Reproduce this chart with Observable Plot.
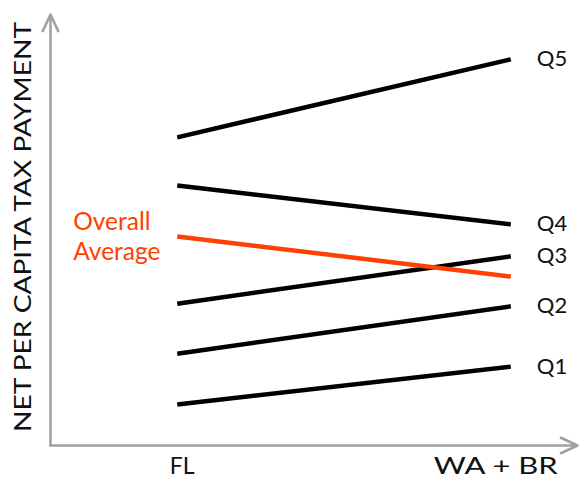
<!DOCTYPE html>
<html>
<head>
<meta charset="utf-8">
<script src="https://cdn.jsdelivr.net/npm/d3@7"></script>
<script src="https://cdn.jsdelivr.net/npm/@observablehq/plot@0.6"></script>
<style>
  html, body { margin: 0; padding: 0; background: #fff; }
  svg { display: block; }
</style>
</head>
<body>
<div id="chart"></div>
<script>
// Data (arbitrary units: net per capita tax payment index)
const periods = ["FL", "WA + BR"];
const periodPos = [0, 1];
const seriesNames = ["Q5", "Q4", "Q3", "Q2", "Q1", "Overall Average"];
const valuesFL   = [71.5, 60.3, 32.9, 21.3, 9.5, 48.5];
const valuesWABR = [89.6, 51.3, 43.9, 32.3, 18.3, 39.2];
const seriesColors = ["#000", "#000", "#000", "#000", "#000", "#ff4000"];
const yTitle = "NET PER CAPITA TAX PAYMENT";

const rows = [];
seriesNames.forEach((s, i) => {
  rows.push({series: s, x: periodPos[0], y: valuesFL[i], color: seriesColors[i]});
  rows.push({series: s, x: periodPos[1], y: valuesWABR[i], color: seriesColors[i]});
});
const quintiles = seriesNames.slice(0, 5).map((s, i) => ({series: s, x: periodPos[1], y: valuesWABR[i]}));
const avgLabel = [{x: periodPos[0], y: valuesFL[5], text: "Overall\nAverage"}];

const xMin = -0.38, xMax = 1.2, yMin = 0, yMax = 100;

const chart = Plot.plot({
  width: 579,
  height: 479,
  marginTop: 14,
  marginBottom: 34,
  marginLeft: 50,
  marginRight: 2,
  style: {fontFamily: "Lato, 'Open Sans', sans-serif", background: "#fff"},
  x: {domain: [xMin, xMax], axis: null},
  y: {domain: [yMin, yMax], axis: null},
  marks: [
    // axes with arrowheads
    Plot.arrow([{x1: xMin, y1: yMin, x2: xMin, y2: yMax}], {
      x1: "x1", y1: "y1", x2: "x2", y2: "y2",
      stroke: "#a0a0a0", strokeWidth: 2.5, headLength: 11, headAngle: 50
    }),
    Plot.arrow([{x1: xMin, y1: yMin, x2: xMax, y2: yMin}], {
      x1: "x1", y1: "y1", x2: "x2", y2: "y2",
      stroke: "#a0a0a0", strokeWidth: 2.5, headLength: 11, headAngle: 50
    }),
    Plot.text([periods[0]], {
      x: () => periodPos[0], y: () => yMin, text: d => d, dx: 5, dy: 21,
      fontSize: 23, fill: "#111", className: "xtick"
    }),
    Plot.text([periods[1]], {
      x: () => periodPos[1], y: () => yMin, text: d => d, dx: -15, dy: 21,
      fontSize: 23, fill: "#111", className: "xtick wide"
    }),
    Plot.text([yTitle], {
      frameAnchor: "left", text: d => d, rotate: -90, dx: -27, dy: -3,
      textAnchor: "middle", fontSize: 23, fill: "#111", className: "ytitle"
    }),
    Plot.line(rows, {
      x: "x", y: "y", z: "series", stroke: "color",
      strokeWidth: 4.5, strokeLinecap: "butt"
    }),
    Plot.text(quintiles, {
      x: "x", y: "y", text: "series", textAnchor: "start", dx: 26,
      fontSize: 22, fill: "#111"
    }),
    Plot.text(avgLabel, {
      x: "x", y: "y", text: "text", textAnchor: "start", dx: -104, dy: -1,
      fontSize: 24.5, fill: "#ff4000", lineHeight: 1.2
    })
  ]
});
document.getElementById("chart").appendChild(chart);
// stretch the long titles to the reference's extents
d3.select(chart).selectAll("g.ytitle text").attr("textLength", 410).attr("lengthAdjust", "spacingAndGlyphs");
d3.select(chart).selectAll("g.wide text").attr("textLength", 124).attr("lengthAdjust", "spacingAndGlyphs");
</script>
</body>
</html>
